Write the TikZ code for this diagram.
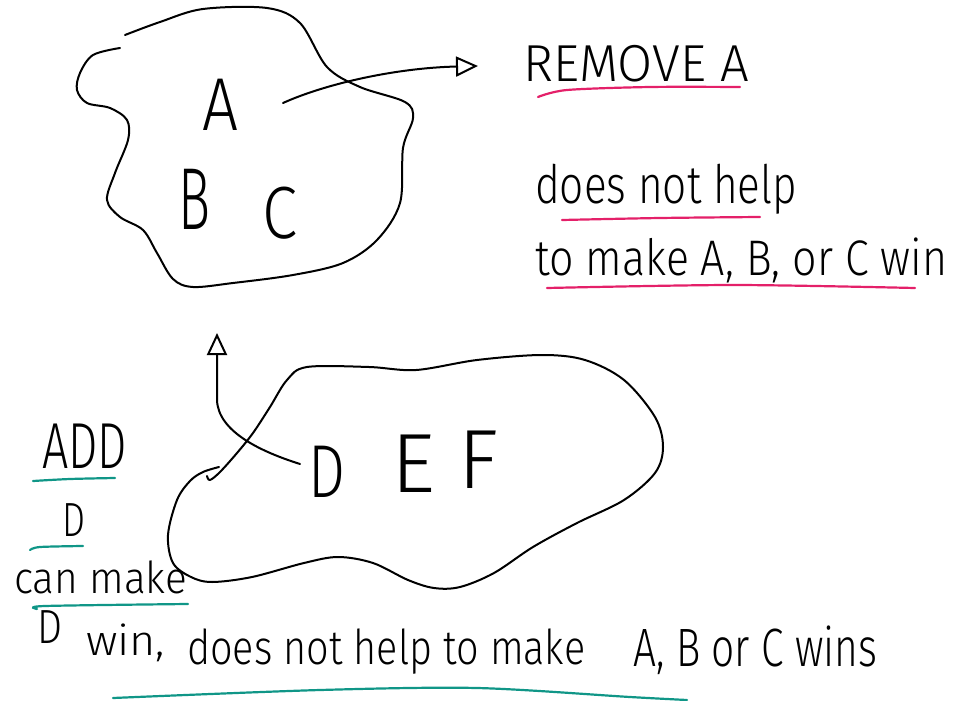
\documentclass[tikz,border=0pt]{standalone}
\usepackage{fontspec}
\setmainfont{Fira Sans Light}
\usetikzlibrary{arrows.meta}
\definecolor{pinkl}{RGB}{228,32,105}
\definecolor{teall}{RGB}{16,150,135}
\newcommand{\hw}[3]{\resizebox{#2pt}{\height}{\fontsize{#1pt}{#1pt}\selectfont #3}}
\begin{document}
\begin{tikzpicture}[x=1pt,y=-1pt,
  ink/.style={line width=2pt, line cap=round, line join=round},
  blob/.style={ink, smooth, tension=0.55},
  arr/.style={ink, -{Triangle[open,length=22pt,width=20pt,line width=2pt]}},
  pinkline/.style={line width=2.2pt, pinkl, line cap=round, smooth},
  tealline/.style={line width=2.2pt, teall, line cap=round, smooth},
  txt/.style={inner sep=0pt, anchor=base west}]
\useasboundingbox (0,0) rectangle (953,701);

% top blob
\draw[blob] plot coordinates {(125,35) (160,22) (203,9) (267,8) (300,23) (327,67) (360,87) (405,102) (413,118) (403,148) (400,203) (377,240) (343,263) (293,275) (233,283) (193,287) (173,279) (157,253) (143,230) (120,217) (107,200) (115,173) (128,140) (127,120) (110,108) (87,103) (77,90) (80,73) (93,55) (120,48)};

\node[txt] (A) at (202,130) {\hw{75}{36}{A}};
\node[txt] (B) at (178,229) {\hw{88}{32}{B}};
\node[txt] (C) at (262,238) {\hw{74}{35}{C}};

\coordinate (a1) at (283,103);
\coordinate (a2) at (478,66);
\draw[arr] (a1) .. controls (325,84) and (395,68) .. (a2);

% right texts
\node[txt] (remove) at (523,82) {\hw{52}{226}{REMOVE A}};
\draw[pinkline] plot coordinates {(538,97) (567,90) (650,87) (740,87)};
\node[txt] (help1) at (535,203) {\hw{53}{262}{does not help}};
\draw[pinkline] plot coordinates {(562,220) (660,218) (760,217)};
\node[txt] (make1) at (535,275) {\hw{50}{412}{to make A, B, or C win}};
\draw[pinkline] plot coordinates {(547,288) (733,285) (915,288)};

% bottom blob
\draw[blob] plot coordinates {(219,467) (203,472) (190,481) (177,500) (168,535) (173,563) (191,577) (212,582) (252,577) (304,563) (338,557) (373,563) (408,580) (434,588) (460,587) (494,573) (533,547) (577,523) (624,500) (655,473) (663,447) (655,417) (624,380) (585,360) (542,355) (477,360) (416,370) (369,367) (307,367) (287,380) (270,407) (253,433) (237,453) (220,472) (210,480) (207,476)};

\node[txt] (D) at (308,497) {\hw{75}{37}{D}};
\node[txt] (E) at (391,492) {\hw{84}{44}{E}};
\node[txt] (F) at (458,488) {\hw{84}{40}{F}};

\coordinate (d1) at (300,464);
\coordinate (d2) at (217,333);
\draw[arr] (d1) .. controls (262,452) and (218,432) .. (217,400) -- (d2);

% left texts
\node[txt] (add) at (42,468) {\hw{65}{85}{ADD}};
\draw[tealline] plot coordinates {(33,481) (70,479) (115,478)};
\node[txt] (Dl) at (62,536) {\hw{48}{23}{D}};
\draw[tealline] plot coordinates {(30,550) (40,547) (83,546)};
\node[txt] (can) at (14,593) {\hw{44}{173}{can make}};
\draw[tealline] plot coordinates {(37,609) (45,606) (188,604)};

% bottom line
\node[txt] (Db) at (37,643) {\hw{48}{25}{D}};
\node[txt] (win) at (86,655) {\hw{42}{79}{win,}};
\node[txt] (help2) at (187,664) {\hw{48}{398}{does not help to make}};
\node[txt] (abc) at (633,666) {\hw{54}{244}{A, B or C wins}};
\draw[tealline] plot coordinates {(113,698) (320,690) (477,688) (630,697) (687,700)};
\end{tikzpicture}
\end{document}
